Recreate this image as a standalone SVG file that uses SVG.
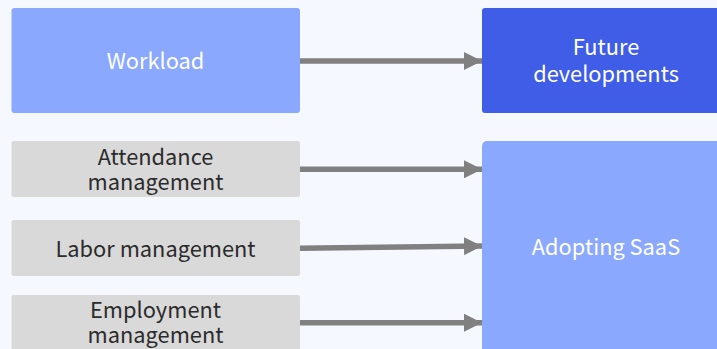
<svg xmlns="http://www.w3.org/2000/svg" width="717" height="349" viewBox="0 0 717 349">
<style>
.t{font-family:"Noto Sans CJK JP","Noto Sans",sans-serif;font-size:21.8px;text-anchor:middle}
.w{fill:#ffffff}
.d{fill:#2b2b2b}
.c{stroke:#808080;stroke-width:5.5;fill:none}
</style>
<defs>
<marker id="ah" markerUnits="userSpaceOnUse" markerWidth="20" markerHeight="18" refX="18" refY="9" orient="auto">
<path d="M0,0 L18,9 L0,18 Z" fill="#808080"/>
</marker>
</defs>
<rect width="717" height="349" fill="#f5f8ff"/>
<g id="workload">
<rect x="11.5" y="8" width="288.5" height="105" rx="3" fill="#8aa8fd"/>
<text class="t w" x="155.5" y="68.5">Workload</text>
</g>
<g id="future">
<rect x="482" y="8" width="248" height="105" rx="3" fill="#405de8"/>
<text class="t w" x="606" y="55">Future</text>
<text class="t w" x="606" y="81.5">developments</text>
</g>
<g id="attendance">
<rect x="11.5" y="141" width="288.5" height="56" rx="2" fill="#d9d9d9"/>
<text class="t d" x="155.5" y="165">Attendance</text>
<text class="t d" x="155.5" y="190">management</text>
</g>
<g id="labor">
<rect x="11.5" y="220" width="288.5" height="56" rx="2" fill="#d9d9d9"/>
<text class="t d" x="155.5" y="256.5">Labor management</text>
</g>
<g id="employment">
<rect x="11.5" y="295" width="288.5" height="60" rx="2" fill="#d9d9d9"/>
<text class="t d" x="155.5" y="318">Employment</text>
<text class="t d" x="155.5" y="342.5">management</text>
</g>
<g id="saas">
<rect x="482" y="141" width="248" height="212" rx="5" fill="#8aa8fd"/>
<text class="t w" x="606" y="255">Adopting SaaS</text>
</g>
<g id="connectors">
<line class="c" x1="300" y1="61" x2="482" y2="61" marker-end="url(#ah)"/>
<line class="c" x1="300" y1="169.3" x2="482" y2="169.3" marker-end="url(#ah)"/>
<line class="c" x1="300" y1="248.3" x2="482" y2="246" marker-end="url(#ah)"/>
<line class="c" x1="300" y1="322.7" x2="482" y2="322.7" marker-end="url(#ah)"/>
</g>
</svg>
